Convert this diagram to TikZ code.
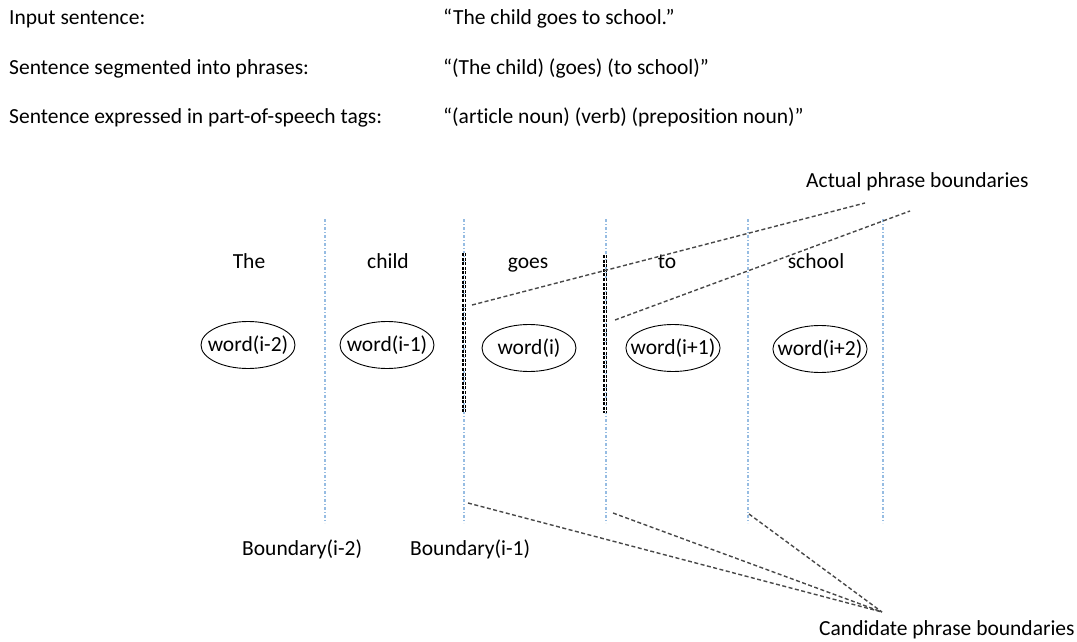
\documentclass[tikz,border=0pt]{standalone}
\usepackage{fontspec}
\setmainfont{Carlito}[Ligatures=NoCommon]
\usetikzlibrary{shapes.geometric}
\definecolor{gridblue}{RGB}{150,188,226}
\definecolor{linkgrey}{RGB}{72,72,72}
\tikzset{
	txt/.style={inner sep=0pt, anchor=base west, font=\fontsize{21.5}{25}\selectfont},
	wordtxt/.style={inner sep=0pt, anchor=base, font=\fontsize{21.5}{25}\selectfont},
	wordbox/.style={ellipse, draw=black, line width=0.9pt, inner xsep=-9pt, inner ysep=6pt, minimum width=94pt, minimum height=47pt, font=\fontsize{21.5}{25}\selectfont},
	gridline/.style={gridblue, line width=1.1pt, dash pattern=on 3pt off 2pt on 1pt off 2pt},
	phrasecut/.style={draw=black, double=white, double distance=0.7pt, line width=1.5pt, dash pattern=on 3pt off 1.6pt},
	pointer/.style={linkgrey, line width=1.4pt, dash pattern=on 4pt off 2.5pt}
}
\begin{document}
\begin{tikzpicture}[x=1pt, y=-1pt]
			%%%%% START %%%%%
			\useasboundingbox (0, 0) rectangle (1077, 642);
			
			% header lines
			\node[txt] (lab1) at (9, 25) {Input sentence:};
			\node[txt] (lab2) at (9, 75) {Sentence segmented into phrases:};
			\node[txt] (lab3) at (9, 124) {Sentence expressed in part-of-speech tags:};
			\node[txt] (sen1) at (443, 25) {“The child goes to school.”};
			\node[txt] (sen2) at (443, 75) {“(The child) (goes) (to school)”};
			\node[txt] (sen3) at (443, 124) {“(article noun) (verb) (preposition noun)”};
			
			% boundaries
			\coordinate (b1t) at (325, 219); \coordinate (b1b) at (325, 523);
			\coordinate (b2t) at (464, 219); \coordinate (b2b) at (464, 523);
			\coordinate (b3t) at (606, 219); \coordinate (b3b) at (606, 523);
			\coordinate (b4t) at (748, 219); \coordinate (b4b) at (748, 523);
			\coordinate (b5t) at (883, 219); \coordinate (b5b) at (883, 523);
			\draw[gridline] (b1t) -- (b1b);
			\draw[gridline] (b2t) -- (b2b);
			\draw[gridline] (b3t) -- (b3b);
			\draw[gridline] (b4t) -- (b4b);
			\draw[gridline] (b5t) -- (b5b);
			
			\coordinate (cut1t) at (464, 253); \coordinate (cut1b) at (464, 412);
			\coordinate (cut2t) at (605, 255); \coordinate (cut2b) at (605, 413);
			\draw[phrasecut] (cut1t) -- (cut1b);
			\draw[phrasecut] (cut2t) -- (cut2b);
			
			% words
			\node[wordtxt] (the) at (249, 268) {The};
			\node[wordtxt] (child) at (388, 268) {child};
			\node[wordtxt] (goes) at (528, 268) {goes};
			\node[wordtxt] (to) at (667, 268) {to};
			\node[wordtxt] (school) at (816, 268) {school};
			
			\node[wordbox] (wm2) at (248, 345) {word(i-2)};
			\node[wordbox] (wm1) at (387, 345) {word(i-1)};
			\node[wordbox] (w0) at (529, 348) {word(i)};
			\node[wordbox] (wp1) at (673, 348) {word(i+1)};
			\node[wordbox] (wp2) at (820, 349) {word(i+2)};
			
			\node[txt] (bnd2) at (242, 555) {Boundary(i-2)};
			\node[txt] (bnd1) at (410, 555) {Boundary(i-1)};
			
			% labels and pointers
			\node[txt] (actual) at (806, 187) {Actual phrase boundaries};
			\node[txt] (cand) at (819, 635) {Candidate phrase boundaries};
			
			\coordinate (act1) at (865, 203);
			\coordinate (act2) at (910, 211);
			\coordinate (a1) at (472, 305);
			\coordinate (a2) at (615, 320);
			\draw[pointer] (a1) -- (act1);
			\draw[pointer] (a2) -- (act2);
			
			\coordinate (meet) at (882, 612);
			\coordinate (c1) at (468, 503);
			\coordinate (c2) at (613, 513);
			\coordinate (c3) at (749, 514);
			\draw[pointer] (c1) -- (meet);
			\draw[pointer] (c2) -- (meet);
			\draw[pointer] (c3) -- (meet);
			%%%%% END %%%%%
\end{tikzpicture}
\end{document}
